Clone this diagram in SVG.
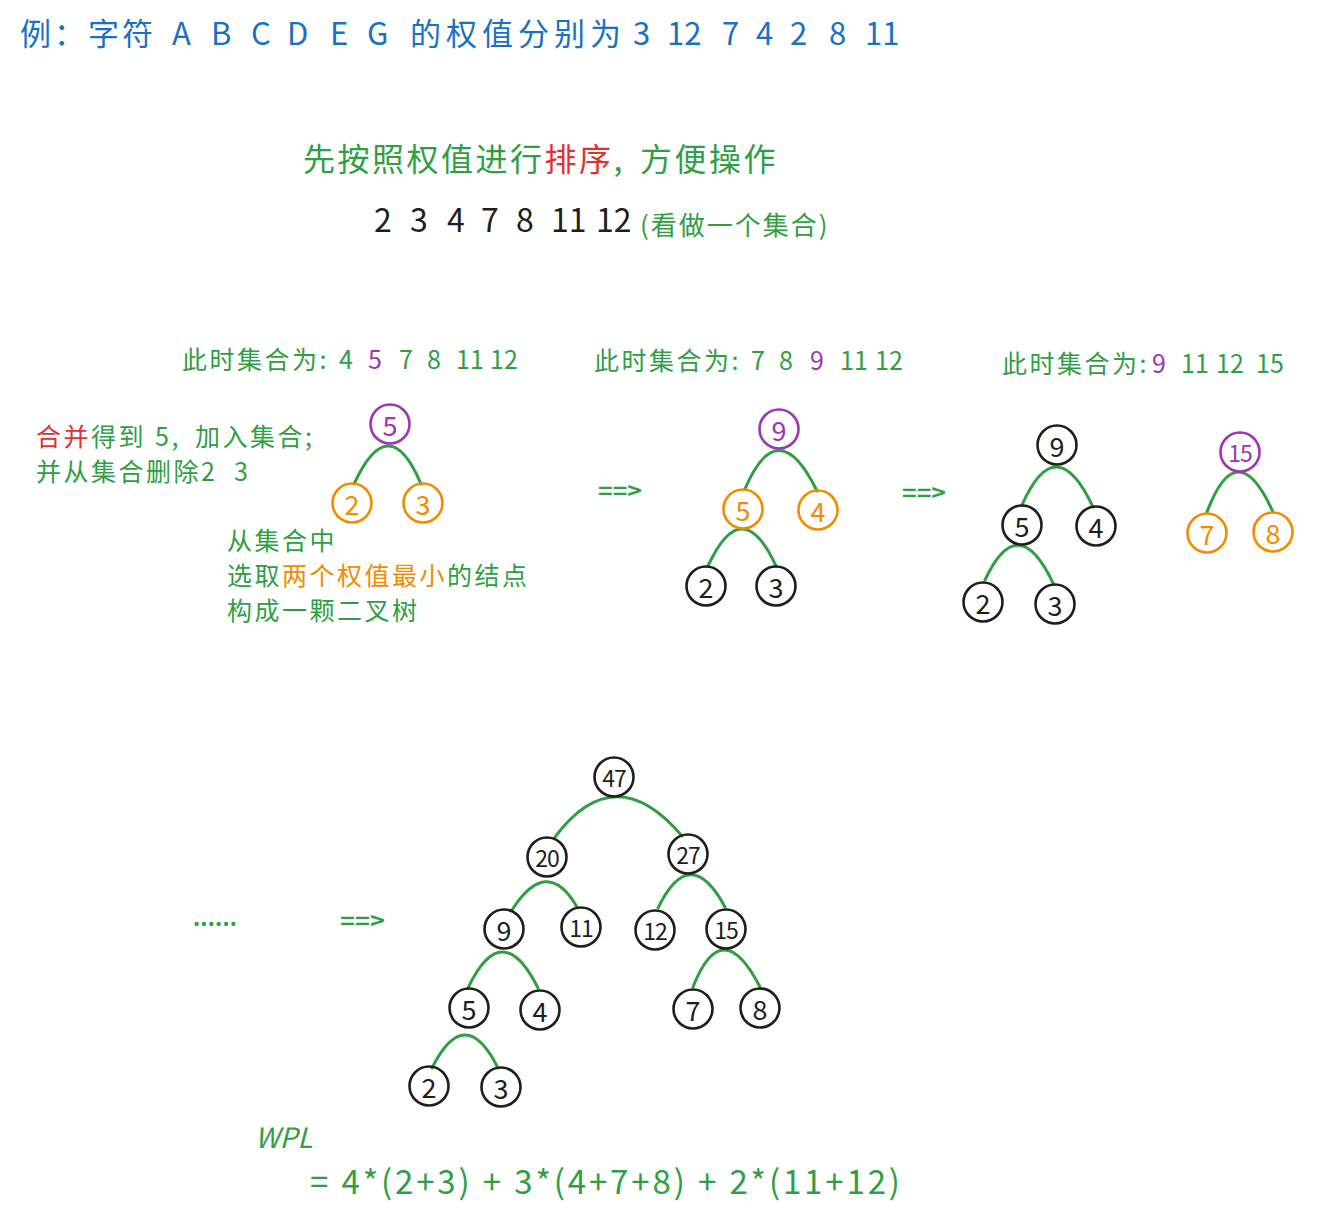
<svg xmlns="http://www.w3.org/2000/svg" width="1330" height="1217" viewBox="0 0 1330 1217">
<style>
text{font-family:"Noto Sans CJK SC","Noto Sans",sans-serif;}
.b{fill:#1971c2;font-size:31px;}
.g{fill:#2f9e44;}
.r{fill:#e03131;}
.o{fill:#f08c00;}
.p{fill:#9c36b5;}
.k{fill:#1e1e1e;}
.d{letter-spacing:0;}
.t26{font-size:25px;letter-spacing:2.5px;}
.t32{font-size:32px;}
.arrow{fill:#2f9e44;font-size:22px;font-weight:bold;}
circle{fill:none;stroke-width:2.6;}
.ck{stroke:#1e1e1e;}
.co{stroke:#f08c00;}
.cp{stroke:#9c36b5;}
.n{font-size:27px;text-anchor:middle;dominant-baseline:central;}
.n2{font-size:23px;text-anchor:middle;dominant-baseline:central;letter-spacing:-1px;}
.edge{fill:none;stroke:#2f9e44;stroke-width:3;stroke-linecap:round;}
</style>

<g id="title">
<text class="b" y="45"><tspan x="20" style="letter-spacing:3px">例：字符</tspan><tspan x="172">A</tspan><tspan x="211">B</tspan><tspan x="251">C</tspan><tspan x="287">D</tspan><tspan x="330">E</tspan><tspan x="367">G</tspan><tspan x="410" style="letter-spacing:5px">的权值分别为</tspan><tspan x="633">3</tspan><tspan x="667">12</tspan><tspan x="722">7</tspan><tspan x="756">4</tspan><tspan x="790">2</tspan><tspan x="829">8</tspan><tspan x="865">11</tspan></text>
</g>

<g id="sort-note">
<text class="t32" y="171" style="letter-spacing:2.5px"><tspan x="303" class="g">先按照权值进行</tspan><tspan class="r">排序</tspan><tspan class="g">,</tspan><tspan x="640" class="g">方便操作</tspan></text>
</g>
<g id="sorted-set">
<text class="t32 k" y="232"><tspan x="374">2</tspan><tspan x="410">3</tspan><tspan x="447">4</tspan><tspan x="481">7</tspan><tspan x="516">8</tspan><tspan x="551">11</tspan><tspan x="596">12</tspan></text>
<text class="g" style="font-size:26px;letter-spacing:2px" x="640" y="235">(看做一个集合)</text>
</g>

<g id="set1">
<text class="t26 g" y="369"><tspan x="182">此时集合为:</tspan><tspan class="d" x="339">4</tspan><tspan x="368" class="p d">5</tspan><tspan class="d" x="399">7</tspan><tspan class="d" x="427">8</tspan><tspan class="d" x="456">11</tspan><tspan class="d" x="490">12</tspan></text>
</g>
<g id="set2">
<text class="t26 g" y="370"><tspan x="594">此时集合为:</tspan><tspan class="d" x="751">7</tspan><tspan class="d" x="779">8</tspan><tspan x="810" class="p d">9</tspan><tspan class="d" x="840">11</tspan><tspan class="d" x="875">12</tspan></text>
</g>
<g id="set3">
<text class="t26 g" y="373"><tspan x="1002">此时集合为:</tspan><tspan x="1152" class="p d">9</tspan><tspan class="d" x="1181">11</tspan><tspan class="d" x="1216">12</tspan><tspan class="d" x="1256">15</tspan></text>
</g>

<g id="merge-note">
<text class="t26" y="446"><tspan x="36" class="r">合并</tspan><tspan class="g">得到</tspan><tspan x="155" class="g">5,</tspan><tspan x="195" class="g">加入集合;</tspan></text>
<text class="t26 g" y="481"><tspan x="36">并从集合删除2</tspan><tspan x="234">3</tspan></text>
</g>

<g id="select-note">
<text class="t26 g" x="227" y="550">从集合中</text>
<text class="t26" y="585"><tspan x="227" class="g">选取</tspan><tspan class="o">两个权值最小</tspan><tspan class="g">的结点</tspan></text>
<text class="t26 g" x="227" y="620">构成一颗二叉树</text>
</g>

<g id="arrows">
<text class="arrow" x="598" y="499" textLength="44" lengthAdjust="spacingAndGlyphs">==&gt;</text>
<text class="arrow" x="902" y="501" textLength="44" lengthAdjust="spacingAndGlyphs">==&gt;</text>
<text class="arrow" x="340" y="929" textLength="45" lengthAdjust="spacingAndGlyphs">==&gt;</text>
<text class="arrow" x="193" y="926" textLength="44" lengthAdjust="spacing">......</text>
</g>

<g id="connectors">
<path class="edge" d="M354 484 Q 389 408 421 484"/>
<path class="edge" d="M745 489 Q 778 411 817 491"/>
<path class="edge" d="M708 566 Q 742 492 776 566"/>
<path class="edge" d="M1022 505 Q 1056 428 1093 507"/>
<path class="edge" d="M985 580 Q 1018 509 1053 583"/>
<path class="edge" d="M1207 512 Q 1237 432 1273 512"/>
<path class="edge" d="M555 837 Q 615 757 682 836"/>
<path class="edge" d="M512 910 Q 547 855 577 907"/>
<path class="edge" d="M658 908 Q 690 842 725 907"/>
<path class="edge" d="M468 988 Q 502 916 538 988"/>
<path class="edge" d="M693 987 Q 722 913 760 987"/>
<path class="edge" d="M432 1068 Q 465 1002 498 1068"/>
</g>

<g id="t1-5"><circle class="cp" cx="390" cy="424" r="19.5"/><text class="n p" x="390" y="424">5</text></g>
<g id="t1-2"><circle class="co" cx="352" cy="503" r="19.5"/><text class="n o" x="352" y="503">2</text></g>
<g id="t1-3"><circle class="co" cx="423" cy="503" r="19.5"/><text class="n o" x="423" y="503">3</text></g>

<g id="t2-9"><circle class="cp" cx="779" cy="429" r="19.5"/><text class="n p" x="779" y="429">9</text></g>
<g id="t2-5"><circle class="co" cx="743" cy="509" r="19.5"/><text class="n o" x="743" y="509">5</text></g>
<g id="t2-4"><circle class="co" cx="818" cy="510" r="19.5"/><text class="n o" x="818" y="510">4</text></g>
<g id="t2-2"><circle class="ck" cx="706" cy="586" r="19.5"/><text class="n k" x="706" y="586">2</text></g>
<g id="t2-3"><circle class="ck" cx="776" cy="586" r="19.5"/><text class="n k" x="776" y="586">3</text></g>

<g id="t3-9"><circle class="ck" cx="1057" cy="445" r="19.5"/><text class="n k" x="1057" y="445">9</text></g>
<g id="t3-5"><circle class="ck" cx="1022" cy="525" r="19.5"/><text class="n k" x="1022" y="525">5</text></g>
<g id="t3-4"><circle class="ck" cx="1096" cy="526" r="19.5"/><text class="n k" x="1096" y="526">4</text></g>
<g id="t3-2"><circle class="ck" cx="983" cy="602" r="19.5"/><text class="n k" x="983" y="602">2</text></g>
<g id="t3-3"><circle class="ck" cx="1055" cy="604" r="19.5"/><text class="n k" x="1055" y="604">3</text></g>
<g id="t3-15"><circle class="cp" cx="1240" cy="452" r="19.5"/><text class="n2 p" x="1240" y="452">15</text></g>
<g id="t3-7"><circle class="co" cx="1207" cy="533" r="19.5"/><text class="n o" x="1207" y="533">7</text></g>
<g id="t3-8"><circle class="co" cx="1273" cy="532" r="19.5"/><text class="n o" x="1273" y="532">8</text></g>

<g id="f-47"><circle class="ck" cx="614" cy="777" r="19.5"/><text class="n2 k" x="614" y="777">47</text></g>
<g id="f-20"><circle class="ck" cx="547" cy="857" r="19.5"/><text class="n2 k" x="547" y="857">20</text></g>
<g id="f-27"><circle class="ck" cx="688" cy="854" r="19.5"/><text class="n2 k" x="688" y="854">27</text></g>
<g id="f-9"><circle class="ck" cx="504" cy="929" r="19.5"/><text class="n k" x="504" y="929">9</text></g>
<g id="f-11"><circle class="ck" cx="581" cy="927" r="19.5"/><text class="n2 k" x="581" y="927">11</text></g>
<g id="f-12"><circle class="ck" cx="655" cy="930" r="19.5"/><text class="n2 k" x="655" y="930">12</text></g>
<g id="f-15"><circle class="ck" cx="726" cy="929" r="19.5"/><text class="n2 k" x="726" y="929">15</text></g>
<g id="f-5"><circle class="ck" cx="469" cy="1008" r="19.5"/><text class="n k" x="469" y="1008">5</text></g>
<g id="f-4"><circle class="ck" cx="540" cy="1010" r="19.5"/><text class="n k" x="540" y="1010">4</text></g>
<g id="f-7"><circle class="ck" cx="693" cy="1009" r="19.5"/><text class="n k" x="693" y="1009">7</text></g>
<g id="f-8"><circle class="ck" cx="760" cy="1008" r="19.5"/><text class="n k" x="760" y="1008">8</text></g>
<g id="f-2"><circle class="ck" cx="429" cy="1086" r="19.5"/><text class="n k" x="429" y="1086">2</text></g>
<g id="f-3"><circle class="ck" cx="501" cy="1087" r="19.5"/><text class="n k" x="501" y="1087">3</text></g>

<g id="wpl">
<text class="g" style="font-size:28px;font-style:italic" x="255" y="1148">WPL</text>
<text class="g" style="font-size:33px" x="310" y="1194" textLength="590" lengthAdjust="spacing">= 4*(2+3) + 3*(4+7+8) + 2*(11+12)</text>
</g>
</svg>
